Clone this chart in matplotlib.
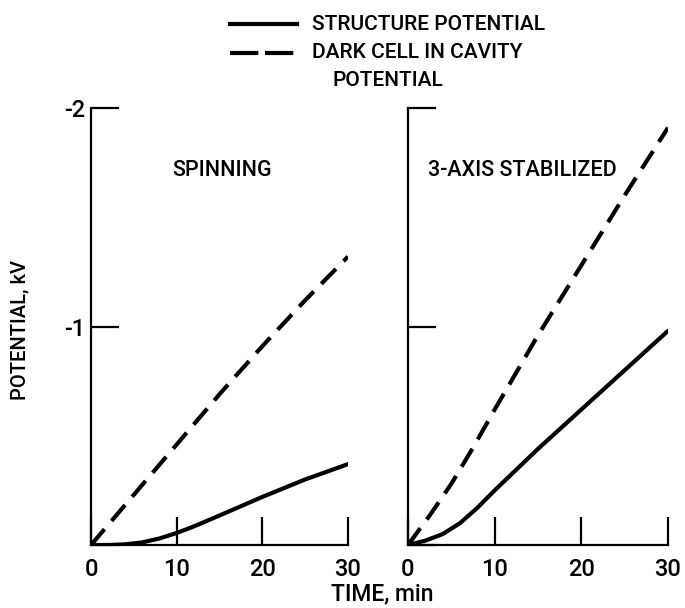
import matplotlib
matplotlib.use("Agg")
import matplotlib.pyplot as plt
from matplotlib.lines import Line2D

# ---------------- data (potential in kV, time in min) ----------------
spin_struct_t = [0, 2, 4, 6, 8, 10, 12, 15, 20, 25, 30]
spin_struct_v = [0, 0, -0.003, -0.012, -0.03, -0.055, -0.085, -0.135, -0.22, -0.30, -0.37]
spin_dark_t = [0, 5, 10, 15, 20, 25, 30]
spin_dark_v = [0, -0.23, -0.46, -0.69, -0.91, -1.12, -1.32]

stab_struct_t = [0, 2, 4, 6, 8, 10, 15, 20, 25, 30]
stab_struct_v = [0, -0.02, -0.05, -0.10, -0.17, -0.25, -0.44, -0.62, -0.80, -0.98]
stab_dark_t = [0, 2.5, 5, 7.5, 10, 15, 20, 25, 30]
stab_dark_v = [0, -0.135, -0.28, -0.445, -0.62, -0.96, -1.28, -1.60, -1.91]

x_ticks = [0, 10, 20, 30]
y_ticks = [0, -1, -2]
y_ticklabels = ["", "-1", "-2"]
panel_titles = ["SPINNING", "3-AXIS STABILIZED"]
legend_labels = ["STRUCTURE POTENTIAL", "DARK CELL IN CAVITY", "POTENTIAL"]

FONT = dict(family="Roboto", fontweight="medium")

W, H = 685, 608
fig = plt.figure(figsize=(W / 100, H / 100), dpi=100)

def fx(px):
    return px / W

def fy(py):
    return 1 - py / H

LW = 3.0
DASH = (0, (5.0, 2.6))

axes_px = [(91, 348), (408, 668)]
top_px, bot_px = 108, 545
datasets = [
    (spin_struct_t, spin_struct_v, spin_dark_t, spin_dark_v),
    (stab_struct_t, stab_struct_v, stab_dark_t, stab_dark_v),
]
for i, ((x0, x1), data, title) in enumerate(zip(axes_px, datasets, panel_titles)):
    ax = fig.add_axes([fx(x0), fy(bot_px), (x1 - x0) / W, (bot_px - top_px) / H])
    st, sv, dt, dv = data
    ax.plot(st, sv, color="black", lw=LW, solid_capstyle="round")
    ax.plot(dt, dv, color="black", lw=LW, linestyle=DASH)
    ax.set_xlim(0, 30)
    ax.set_ylim(0, -2)
    for s in ("top", "right"):
        ax.spines[s].set_visible(False)
    for s in ("left", "bottom"):
        ax.spines[s].set_linewidth(1.6)
    ax.set_xticks(x_ticks)
    ax.set_yticks(y_ticks)
    ax.tick_params(direction="in", length=20, width=1.6)
    ax.set_xticklabels([str(v) for v in x_ticks], fontsize=17, **FONT)
    if i == 0:
        ax.set_yticklabels(y_ticklabels, fontsize=17, **FONT)
    else:
        ax.set_yticklabels([])
    ax.tick_params(axis="x", pad=9)
    ax.tick_params(axis="y", pad=4)
    ax.text(0.315 if i == 0 else 0.075, 0.856, title, transform=ax.transAxes,
            fontsize=15.5, ha="left", va="center", **FONT)

# axis labels
fig.text(fx(20), fy(330), "POTENTIAL, kV", rotation=90, ha="center", va="center", fontsize=14.5, **FONT)
fig.text(fx(382), fy(594), "TIME, min", ha="center", va="center", fontsize=16.5, **FONT)

# legend
fig.add_artist(Line2D([fx(230), fx(297)], [fy(24), fy(24)], color="black", lw=LW, transform=fig.transFigure))
fig.add_artist(Line2D([fx(230), fx(297)], [fy(53), fy(53)], color="black", lw=LW, linestyle=(0, (6.8, 1.6)), transform=fig.transFigure))
fig.text(fx(312), fy(24), legend_labels[0], ha="left", va="center", fontsize=15, **FONT)
fig.text(fx(312), fy(53), legend_labels[1], ha="left", va="center", fontsize=15, **FONT)
fig.text(fx(333), fy(81), legend_labels[2], ha="left", va="center", fontsize=15, **FONT)

fig.savefig("out.png", dpi=100)
